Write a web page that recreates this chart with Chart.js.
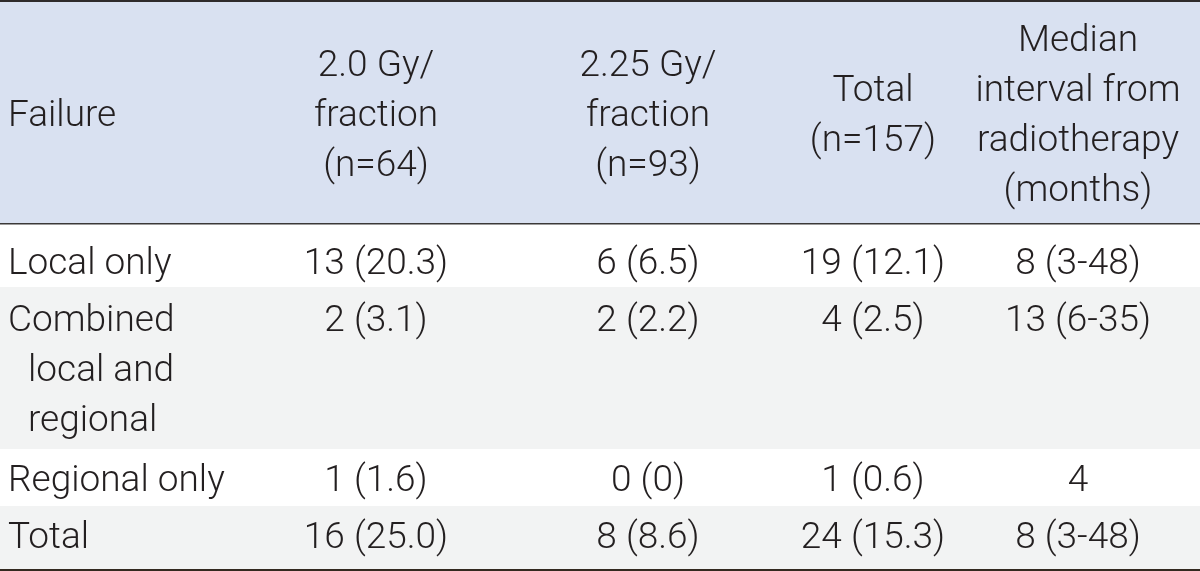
<!DOCTYPE html>
<html>
<head>
<meta charset="utf-8">
<script src="https://cdn.jsdelivr.net/npm/chart.js@4/dist/chart.umd.min.js"></script>
<style>
  html, body { margin: 0; padding: 0; background: #ffffff; }
  #wrap { width: 1200px; height: 571px; position: relative; }
</style>
</head>
<body>
<div id="wrap"><canvas id="c"></canvas></div>
<script>
// ---- Data ----
const headerFailure = ['Failure'];
const header20 = ['2.0 Gy/', 'fraction', '(n=64)'];
const header225 = ['2.25 Gy/', 'fraction', '(n=93)'];
const headerTotal = ['Total', '(n=157)'];
const headerMedian = ['Median', 'interval from', 'radiotherapy', '(months)'];

const failureLabels = [['Local only'], ['Combined', 'local and', 'regional'], ['Regional only'], ['Total']];
const dose20Counts = [13, 2, 1, 16];
const dose20Pct = [20.3, 3.1, 1.6, 25.0];
const dose225Counts = [6, 2, 0, 8];
const dose225Pct = [6.5, 2.2, 0, 8.6];
const totalCounts = [19, 4, 1, 24];
const totalPct = [12.1, 2.5, 0.6, 15.3];
const medianMonths = [8, 13, 4, 8];
const medianLow = [3, 6, null, 3];
const medianHigh = [48, 35, null, 48];

// ---- Layout (pixel-space values on the hidden linear scales) ----
const colCenters = [376, 648, 873, 1078];
const leftX = 8, indentX = 28;
const headerTop = 2, headerBottom = 223;
const rowEdges = [224, 287, 449, 506, 569];
const rowBaselines = [274, 331, 491, 548];
const lineGap = 50;
const FONT = '300 37px Roboto, "Liberation Sans", Arial, sans-serif';
const TEXT = '#231f20';

function fmtPct(c, p) { return c + ' (' + (p === 0 ? '0' : p.toFixed(1)) + ')'; }
function fmtMedian(i) {
  return medianLow[i] == null ? String(medianMonths[i]) : medianMonths[i] + ' (' + medianLow[i] + '-' + medianHigh[i] + ')';
}

const tablePlugin = {
  id: 'tablePlugin',
  beforeDraw(chart) {
    const ctx = chart.ctx, x = chart.scales.x, y = chart.scales.y;
    const X0 = x.getPixelForValue(0), X1 = x.getPixelForValue(1200);
    const W = X1 - X0;
    ctx.save();
    ctx.fillStyle = '#ffffff';
    ctx.fillRect(X0, y.getPixelForValue(0), W, y.getPixelForValue(571) - y.getPixelForValue(0));
    ctx.fillStyle = '#d9e1f1';
    ctx.fillRect(X0, y.getPixelForValue(headerTop), W, y.getPixelForValue(headerBottom) - y.getPixelForValue(headerTop));
    for (let r = 0; r < failureLabels.length; r++) {
      ctx.fillStyle = (r % 2 === 1) ? '#f2f3f3' : '#ffffff';
      const t = y.getPixelForValue(rowEdges[r]), b = y.getPixelForValue(rowEdges[r + 1]);
      ctx.fillRect(X0, t, W, b - t);
    }
    ctx.fillStyle = '#2e2b2b';
    ctx.fillRect(X0, y.getPixelForValue(0), W, 2);
    ctx.fillStyle = '#3a3838';
    ctx.fillRect(X0, y.getPixelForValue(headerBottom), W, 1.5);
    ctx.fillStyle = '#33291f';
    ctx.fillRect(X0, y.getPixelForValue(569), W, 2);
    ctx.restore();
  },
  afterDraw(chart) {
    const ctx = chart.ctx, x = chart.scales.x, y = chart.scales.y;
    ctx.save();
    ctx.font = FONT;
    ctx.fillStyle = TEXT;
    ctx.textBaseline = 'alphabetic';
    const hMid = (headerTop + headerBottom) / 2 + 13;
    function block(lines, cx, align) {
      ctx.textAlign = align;
      const n = lines.length;
      lines.forEach((s, i) => {
        const by = hMid + (i - (n - 1) / 2) * lineGap;
        ctx.fillText(s, x.getPixelForValue(cx), y.getPixelForValue(by));
      });
    }
    block(headerFailure, leftX, 'left');
    block(header20, colCenters[0], 'center');
    block(header225, colCenters[1], 'center');
    block(headerTotal, colCenters[2], 'center');
    block(headerMedian, colCenters[3], 'center');

    for (let r = 0; r < failureLabels.length; r++) {
      const by = rowBaselines[r];
      ctx.textAlign = 'left';
      failureLabels[r].forEach((s, i) => {
        ctx.fillText(s, x.getPixelForValue(i === 0 ? leftX : indentX), y.getPixelForValue(by + i * lineGap));
      });
      ctx.textAlign = 'center';
      const cells = [fmtPct(dose20Counts[r], dose20Pct[r]), fmtPct(dose225Counts[r], dose225Pct[r]),
                     fmtPct(totalCounts[r], totalPct[r]), fmtMedian(r)];
      cells.forEach((s, c) => ctx.fillText(s, x.getPixelForValue(colCenters[c]), y.getPixelForValue(by)));
    }
    ctx.restore();
  }
};

function start() {
  new Chart(document.getElementById('c'), {
    type: 'scatter',
    data: { datasets: [{ data: [], pointRadius: 0 }] },
    options: {
      responsive: true,
      maintainAspectRatio: false,
      animation: false,
      events: [],
      layout: { padding: 0 },
      plugins: { legend: { display: false }, tooltip: { enabled: false }, title: { display: false } },
      scales: {
        x: { type: 'linear', min: 0, max: 1200, display: false },
        y: { type: 'linear', min: 0, max: 571, reverse: true, display: false }
      }
    },
    plugins: [tablePlugin]
  });
}
if (document.fonts && document.fonts.load) {
  document.fonts.load(FONT).then(start, start);
} else { start(); }
</script>
</body>
</html>
